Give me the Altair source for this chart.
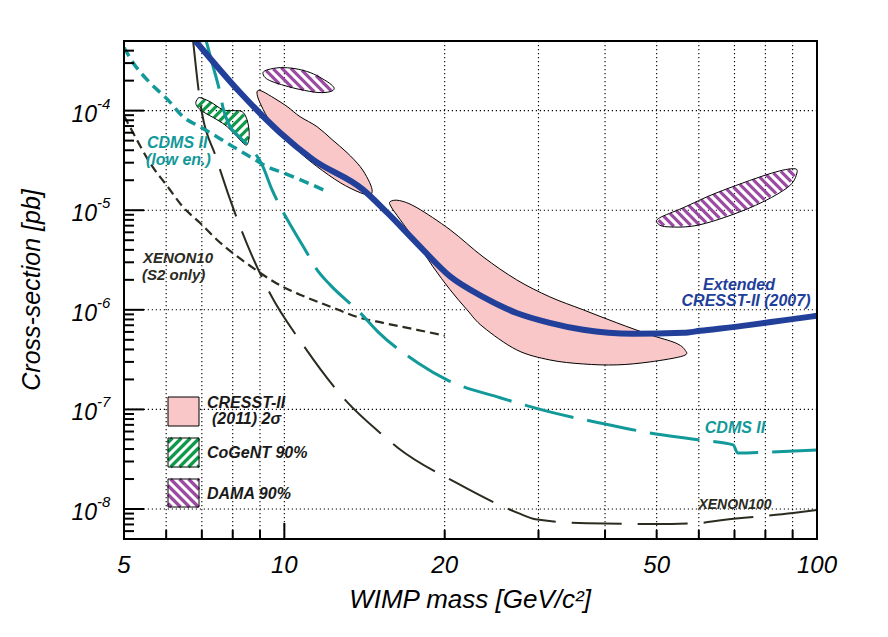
import math
import altair as alt
import pandas as pd

# ---------------- data ----------------
# Extended CRESST-II (2007) limit
cresst07_mass = [6.80, 8.26, 9.82, 11.32, 14.05, 15.6, 17.7, 20.5, 23.6, 27.3, 31.5, 36.4, 45.2, 56.1, 60.3,
                 74.9, 86.4, 100]
cresst07_xs = [5.06e-4, 1.52e-4, 6.0e-5, 3.22e-5, 1.61e-5, 9.44e-6, 4.71e-6, 2.15e-6, 1.35e-6, 9.3e-7,
               7.4e-7, 6.3e-7, 5.74e-7, 5.87e-7, 6.15e-7, 7.06e-7, 7.83e-7, 8.71e-7]

# CDMS II (low energy analysis)
cdmsle_mass = [5.0, 5.20, 5.59, 6.04, 6.45, 6.94, 7.47, 8.01, 8.62, 9.28, 9.94, 10.70, 12.03]
cdmsle_xs = [4.30e-4, 3.03e-4, 1.91e-4, 1.29e-4, 8.70e-5, 6.90e-5, 5.48e-5, 4.35e-5, 3.45e-5, 2.74e-5,
             2.38e-5, 2.03e-5, 1.54e-5]

# CDMS II
cdms_mass = [7.13, 7.35, 7.57, 7.67, 7.84, 8.26, 8.70, 9.08, 9.48, 9.94, 10.34, 10.94, 11.52, 12.19, 13.88,
             14.99, 17.82, 20.2, 25.41, 31.5, 39.1, 48.6, 60.3, 69.6, 71.0, 81.6, 100]
cdms_xs = [5.06e-4, 2.77e-4, 1.52e-4, 1.07e-4, 7.57e-5, 5.36e-5, 4.06e-5, 2.87e-5, 1.61e-5, 9.66e-6, 6.67e-6,
           4.01e-6, 2.52e-6, 1.78e-6, 9.33e-7, 6.01e-7, 2.93e-7, 1.98e-7, 1.31e-7, 9.44e-8, 7.31e-8, 5.81e-8,
           4.93e-8, 4.40e-8, 3.65e-8, 3.74e-8, 3.92e-8]

# XENON10 (S2 only)
xe10_mass = [5.0, 5.20, 5.59, 6.04, 6.45, 6.94, 7.47, 8.62, 9.94, 10.70, 12.34, 13.88, 15.32, 17.74, 20.0]
xe10_xs = [8.9e-5, 6.0e-5, 3.0e-5, 1.72e-5, 1.08e-5, 7.48e-6, 5.06e-6, 2.77e-6, 1.70e-6, 1.42e-6, 1.05e-6,
           8.3e-7, 7.4e-7, 6.3e-7, 5.5e-7]

# XENON100
xe100_mass = [6.74, 6.94, 7.47, 8.26, 9.32, 10.94, 13.11, 15.13, 16.35, 21.1, 27.5, 29.6, 37.0, 49.7, 59.5,
              66.6, 90.2, 100]
xe100_xs = [5.06e-4, 1.29e-4, 3.22e-5, 6.82e-6, 1.59e-6, 4.15e-7, 1.19e-7, 5.81e-8, 4.10e-8, 1.82e-8, 9.1e-9,
            7.9e-9, 7.2e-9, 7.06e-9, 7.2e-9, 7.75e-9, 9.1e-9, 9.77e-9]

# CRESST-II (2011) 2 sigma regions (closed contours)
cresst_a_mass = [8.92, 9.12, 9.60, 10.12, 10.70, 11.52, 12.29, 13.11, 13.88, 14.37, 14.61, 14.49, 13.88, 12.73,
                 11.52, 10.70, 10.12, 9.60, 9.28, 9.00, 8.89]
cresst_a_xs = [1.59e-4, 1.55e-4, 1.32e-4, 1.10e-4, 8.70e-5, 6.90e-5, 5.12e-5, 3.79e-5, 2.74e-5, 2.03e-5, 1.61e-5,
               1.43e-5, 1.50e-5, 1.89e-5, 2.74e-5, 3.79e-5, 5.12e-5, 6.90e-5, 8.70e-5, 1.20e-4, 1.45e-4]
cresst_b_mass = [15.80, 16.45, 17.74, 20.47, 23.6, 27.3, 31.5, 36.4, 42.1, 48.6, 54.2, 56.5, 56.1, 48.6, 42.1,
                 36.4, 31.5, 27.3, 23.6, 22.03, 20.47, 19.02, 17.74, 16.50, 15.87]
cresst_b_xs = [1.22e-5, 1.25e-5, 1.06e-5, 6.37e-6, 3.41e-6, 2.0e-6, 1.35e-6, 1.0e-6, 7.4e-7, 5.61e-7, 4.66e-7,
               3.96e-7, 3.45e-7, 3.0e-7, 2.80e-7, 2.86e-7, 3.14e-7, 3.96e-7, 6.74e-7, 1.0e-6, 1.59e-6, 2.70e-6,
               4.71e-6, 8.03e-6, 1.08e-5]

# DAMA 90% regions
dama_a_mass = [9.12, 9.32, 9.82, 10.47, 11.18, 11.77, 12.24, 12.40, 12.19, 11.57, 10.70, 10.03, 9.48, 9.20]
dama_a_xs = [2.41e-4, 2.58e-4, 2.70e-4, 2.64e-4, 2.41e-4, 2.10e-4, 1.83e-4, 1.66e-4, 1.55e-4, 1.52e-4, 1.63e-4,
             1.78e-4, 1.96e-4, 2.15e-4]
dama_b_mass = [50.1, 52.3, 60.3, 74.9, 87.9, 91.7, 89.8, 80.6, 64.9, 56.1, 50.7]
dama_b_xs = [7.48e-6, 6.82e-6, 7.15e-6, 1.06e-5, 1.68e-5, 2.38e-5, 2.61e-5, 2.28e-5, 1.50e-5, 1.06e-5, 8.41e-6]

# CoGeNT 90% region
cogent_mass = [6.86, 6.94, 7.25, 7.67, 8.01, 8.33, 8.51, 8.59, 8.55, 8.44, 8.15, 7.81, 7.47, 7.03, 6.86, 6.82]
cogent_xs = [1.29e-4, 1.35e-4, 1.23e-4, 1.02e-4, 1.0e-4, 9.77e-5, 8.12e-5, 6.01e-5, 4.77e-5, 4.55e-5, 5.48e-5,
             6.90e-5, 8.12e-5, 9.77e-5, 1.10e-4, 1.20e-4]

# axes
x_grid_values = [6, 7, 8, 9, 10, 20, 30, 40, 50, 60, 70, 80, 90]
x_minor_ticks = [6, 7, 8, 9, 20, 30, 40, 50, 60, 70, 80, 90]
x_major_ticks = [10]
x_label_values = [5, 10, 20, 50, 100]
x_label_texts = ["5", "10", "20", "50", "100"]
y_major = [1e-8, 1e-7, 1e-6, 1e-5, 1e-4]
y_exponents = ["-8", "-7", "-6", "-5", "-4"]
y_minor = [k * 10.0 ** e for e in range(-9, -3) for k in range(2, 10) if 5e-9 <= k * 10.0 ** e <= 5e-4]

# ---------------- layout / style ----------------
W, H = 693, 498
LEFT, TOP = 124, 41          # page position of the plot area
XDOM = [5, 100]
YDOM = [5e-9, 5e-4]
FONT = "Liberation Sans"
BLUE = "#22409a"
TEAL = "#12999a"
DARK = "#2b2b1f"
PINK = "#f9c7c7"
GREEN = "#0f9a4a"
PURPLE = "#9b4ba2"
GRID_DASH = [1.2, 2.8]

XS = alt.Scale(type="log", domain=XDOM, nice=False)
YS = alt.Scale(type="log", domain=YDOM, nice=False)
LX0, LX1 = math.log10(XDOM[0]), math.log10(XDOM[1])
LY0, LY1 = math.log10(YDOM[0]), math.log10(YDOM[1])


def to_px(m, s):
    return ((math.log10(m) - LX0) / (LX1 - LX0) * W, (LY1 - math.log10(s)) / (LY1 - LY0) * H)


def from_px(px, py):
    return (10 ** (LX0 + px / W * (LX1 - LX0)), 10 ** (LY1 - py / H * (LY1 - LY0)))


def hatch_segments(poly, slope, period):
    f = (lambda p: p[0] + p[1]) if slope > 0 else (lambda p: p[1] - p[0])
    vals = [f(p) for p in poly]
    lo, hi = min(vals), max(vals)
    c = math.floor(lo / period) * period + period / 2
    segs = []
    n = len(poly)
    while c < hi:
        pts = []
        for i in range(n):
            a, b = poly[i], poly[(i + 1) % n]
            fa, fb = f(a) - c, f(b) - c
            if (fa < 0) != (fb < 0):
                t = fa / (fa - fb)
                pts.append((a[0] + t * (b[0] - a[0]), a[1] + t * (b[1] - a[1])))
        pts.sort()
        for j in range(0, len(pts) - 1, 2):
            segs.append((pts[j], pts[j + 1]))
        c += period
    return segs


def seg_df(segs):
    rows = []
    for p, q in segs:
        m1, s1 = from_px(*p)
        m2, s2 = from_px(*q)
        rows.append(dict(m=m1, s=s1, m2=m2, s2=s2))
    return pd.DataFrame(rows)


def curve_df(mass, xs):
    return pd.DataFrame({"m": mass, "s": xs, "i": list(range(len(mass)))})


X = alt.X("m:Q", scale=XS, axis=None)
Y = alt.Y("s:Q", scale=YS, axis=None)
ONE = pd.DataFrame({"a": [0]})


def line_layer(mass, xs, color, width, dash=None):
    kw = dict(color=color, strokeWidth=width, clip=True, strokeCap="butt", strokeJoin="round",
              interpolate="monotone")
    if dash:
        kw["strokeDash"] = dash
    return alt.Chart(curve_df(mass, xs)).mark_line(**kw).encode(x=X, y=Y, order=alt.Order("i:Q"))


def region_layer(mass, xs, fill=None):
    kw = dict(stroke="black", strokeWidth=1, interpolate="cardinal-closed", clip=True)
    if fill:
        kw["fill"] = fill
    else:
        kw["fillOpacity"] = 0
    return alt.Chart(curve_df(mass, xs)).mark_line(**kw).encode(x=X, y=Y, order=alt.Order("i:Q"))


def hatch_layer(segs, color, width=3.2):
    return alt.Chart(seg_df(segs)).mark_rule(color=color, strokeWidth=width, strokeCap="butt", clip=True).encode(
        x=X, x2="m2:Q", y=Y, y2="s2:Q")


def region_hatch(mass, xs, slope, color):
    poly = [to_px(m, s) for m, s in zip(mass, xs)]
    return hatch_layer(hatch_segments(poly, slope, 9), color)


def text(t, px, py, color="#1a1a1a", size=16, align="left", bold=True, italic=True, angle=0,
         baseline="alphabetic"):
    return alt.Chart(ONE).mark_text(
        text=t, align=align, baseline=baseline, font=FONT, fontSize=size,
        fontWeight="bold" if bold else "normal", fontStyle="italic" if italic else "normal",
        color=color, angle=angle).encode(x=alt.value(px - LEFT), y=alt.value(py - TOP))


def box(px0, py0, px1, py1, fill=None):
    kw = dict(stroke="black", strokeWidth=1)
    if fill:
        kw["fill"] = fill
    else:
        kw["fillOpacity"] = 0
    return alt.Chart(ONE).mark_rect(**kw).encode(
        x=alt.value(px0 - LEFT), x2=alt.value(px1 - LEFT), y=alt.value(py0 - TOP), y2=alt.value(py1 - TOP))


def box_hatch(px0, py0, px1, py1, slope, color):
    poly = [(px0 - LEFT, py0 - TOP), (px1 - LEFT, py0 - TOP), (px1 - LEFT, py1 - TOP), (px0 - LEFT, py1 - TOP)]
    return hatch_layer(hatch_segments(poly, slope, 9), color)


# ---------------- layers ----------------
vgrid = alt.Chart(pd.DataFrame({"m": x_grid_values})).mark_rule(
    color="black", strokeWidth=1.1, strokeDash=GRID_DASH).encode(x=X)
hgrid = alt.Chart(pd.DataFrame({"s": y_major})).mark_rule(
    color="black", strokeWidth=1.1, strokeDash=GRID_DASH).encode(y=Y)

layers = [vgrid, hgrid,
          region_layer(cresst_a_mass, cresst_a_xs, PINK),
          region_layer(cresst_b_mass, cresst_b_xs, PINK),
          region_hatch(dama_a_mass, dama_a_xs, -1, PURPLE),
          region_layer(dama_a_mass, dama_a_xs),
          region_hatch(dama_b_mass, dama_b_xs, -1, PURPLE),
          region_layer(dama_b_mass, dama_b_xs),
          region_hatch(cogent_mass, cogent_xs, 1, GREEN),
          region_layer(cogent_mass, cogent_xs),
          line_layer(xe10_mass, xe10_xs, DARK, 2.2, [9, 5]),
          line_layer(xe100_mass, xe100_xs, DARK, 2, [50, 16]),
          line_layer(cdms_mass, cdms_xs, TEAL, 3, [50, 14]),
          line_layer(cdmsle_mass, cdmsle_xs, TEAL, 3.5, [10, 6]),
          line_layer(cresst07_mass, cresst07_xs, BLUE, 6),
          ]

# ticks pointing inward
ytick_major = alt.Chart(pd.DataFrame({"s": y_major})).mark_rule(color="black", strokeWidth=2).encode(
    y=Y, x=alt.value(0), x2=alt.value(20))
ytick_minor = alt.Chart(pd.DataFrame({"s": y_minor})).mark_rule(color="black", strokeWidth=2).encode(
    y=Y, x=alt.value(0), x2=alt.value(10))
xtick_minor = alt.Chart(pd.DataFrame({"m": x_minor_ticks})).mark_rule(color="black", strokeWidth=2).encode(
    x=X, y=alt.value(H), y2=alt.value(H - 9))
xtick_major = alt.Chart(pd.DataFrame({"m": x_major_ticks})).mark_rule(color="black", strokeWidth=2).encode(
    x=X, y=alt.value(H), y2=alt.value(H - 16))
frame = alt.Chart(ONE).mark_rect(fillOpacity=0, stroke="black", strokeWidth=2).encode(
    x=alt.value(0), x2=alt.value(W), y=alt.value(0), y2=alt.value(H))
layers += [ytick_major, ytick_minor, xtick_minor, xtick_major, frame]

# tick labels
ylab = pd.DataFrame({"s": y_major, "e": y_exponents})
layers.append(alt.Chart(ylab).mark_text(text="10", align="right", baseline="alphabetic", dy=11, font=FONT,
                                        fontSize=23, fontStyle="italic", color="black").encode(
    y=Y, x=alt.value(-27)))
layers.append(alt.Chart(ylab).mark_text(align="left", baseline="alphabetic", dy=-2, font=FONT, fontSize=15,
                                        fontStyle="italic", color="black").encode(
    y=Y, x=alt.value(-27), text="e:N"))
xlab = pd.DataFrame({"m": x_label_values, "t": x_label_texts})
layers.append(alt.Chart(xlab).mark_text(align="center", baseline="alphabetic", font=FONT, fontSize=24,
                                        fontStyle="italic", color="black").encode(
    x=X, y=alt.value(573 - TOP), text="t:N"))

# axis titles
layers.append(text("WIMP mass [GeV/c²]", 470, 608, color="black", size=26, align="center", bold=False))
layers.append(text("Cross-section [pb]", 40, 290, color="black", size=25, align="center", bold=False,
                   angle=270))

# curve annotations
layers += [
    text("CDMS II", 147, 148, TEAL, 16),
    text("(low en.)", 146, 165, TEAL, 16),
    text("XENON10", 143, 263, DARK, 15),
    text("(S2 only)", 142, 280, DARK, 15),
    text("Extended", 739, 290, BLUE, 16, align="center"),
    text("CRESST-II (2007)", 746, 306, BLUE, 16, align="center"),
    text("CDMS II", 735, 433, TEAL, 16, align="center"),
    text("XENON100", 735, 509, DARK, 14, align="center"),
]

# legend
layers += [
    box(168, 397, 199, 426, PINK),
    box_hatch(168, 438, 199, 467, 1, GREEN),
    box(168, 438, 199, 467),
    box_hatch(168, 479, 199, 507, -1, PURPLE),
    box(168, 479, 199, 507),
    text("CRESST-II", 207, 408, size=16),
    text("(2011) 2σ", 212, 424, size=16),
    text("CoGeNT 90%", 207, 458, size=16),
    text("DAMA 90%", 207, 499, size=16),
]

chart = alt.layer(*layers).properties(
    width=W, height=H,
    autosize=alt.AutoSizeParams(type="none"),
    padding={"left": LEFT - 8, "top": TOP - 8, "right": 40, "bottom": 80},
    background="white",
).configure_view(stroke="transparent")

chart.save("out.html", embed_options={"renderer": "svg", "actions": False})
